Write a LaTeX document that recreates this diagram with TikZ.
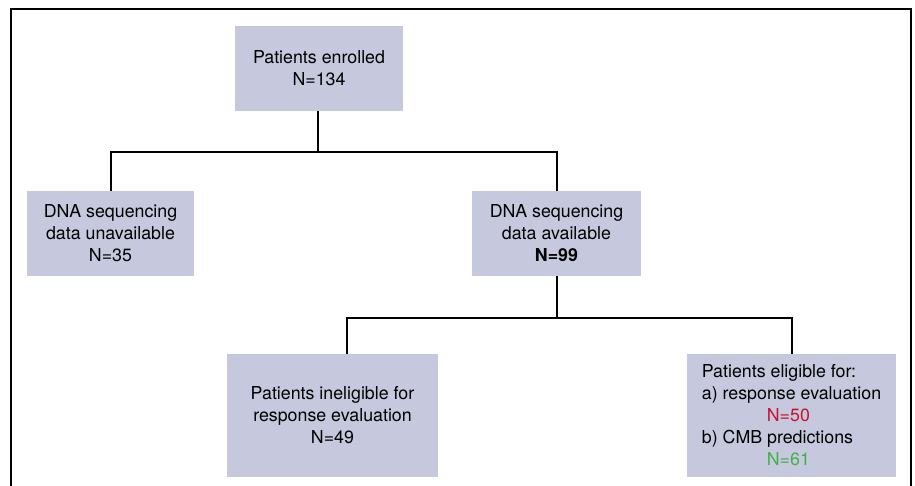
\documentclass[tikz,border=0pt]{standalone}
\usepackage{fontspec}
\setmainfont{TeX Gyre Heros}
\definecolor{boxfill}{RGB}{198,201,221}
\definecolor{nred}{RGB}{200,16,46}
\definecolor{ngreen}{RGB}{64,176,72}
\begin{document}
\begin{tikzpicture}[x=1pt,y=-1pt,
  box/.style={fill=boxfill, inner sep=0pt, align=center, font=\fontsize{17.8}{22}\selectfont},
  link/.style={line width=2pt, black},
  frameline/.style={line width=2pt, black}]
\useasboundingbox (0,0) rectangle (915,486);
\clip (0,0) rectangle (915,486);
\draw[frameline] (11,490) -- (11,9.5) -- (910.5,9.5) -- (910.5,490);

\node[box, minimum width=168pt, minimum height=85pt] (top) at (319,68.5)
  {Patients enrolled\\N=134};
\node[box, minimum width=167pt, minimum height=85pt] (unav) at (110.5,233.5)
  {DNA sequencing\\data unavailable\\N=35};
\node[box, minimum width=169pt, minimum height=85pt] (avail) at (556.5,233.5)
  {DNA sequencing\\data available\\\textbf{N=99}};
\node[box, minimum width=211pt, minimum height=123pt] (inel) at (332.5,415.5)
  {Patients ineligible for\\response evaluation\\N=49};
\node[box, minimum width=209pt, minimum height=123pt, align=left] (elig) at (791.5,415.5)
  {Patients eligible for:\\a) response evaluation\\\hspace*{65pt}\textcolor{nred}{N=50}\\b) CMB predictions\\\hspace*{65pt}\textcolor{ngreen}{N=61}};

\coordinate (j1) at (318,152);
\coordinate (j2) at (556.5,318);
\draw[link] (top.south -| j1) -- (j1);
\draw[link] (j1) -| (unav.north);
\draw[link] (j1) -| (avail.north);
\draw[link] (avail.south) -- (j2);
\draw[link] (j2) -| ([xshift=14.5pt]inel.north);
\draw[link] (j2) -| (elig.north);
\end{tikzpicture}
\end{document}
